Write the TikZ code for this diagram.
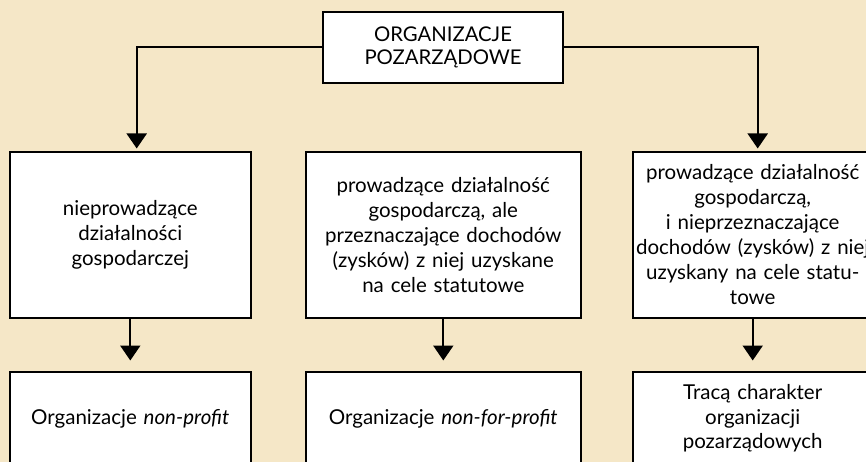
\documentclass[tikz,border=0pt]{standalone}
\usepackage{fontspec}
\setmainfont{Lato}
\usetikzlibrary{positioning,arrows.meta}
\definecolor{paper}{RGB}{245,231,199}

\tikzset{
  box/.style={draw, line width=2pt, fill=white, align=center, inner xsep=9pt, inner ysep=0pt,
    font=\fontsize{20.5}{25}\selectfont, text width=222pt, minimum height=165pt},
  endbox/.style={box, minimum height=94pt, font=\fontsize{20.5}{24.3}\selectfont},
  link/.style={line width=2pt, -{Triangle[width=20pt,length=15pt]}}
}

\begin{document}
\begin{tikzpicture}[x=1pt,y=-1pt]
\fill[paper] (0,0) rectangle (866,462);
\useasboundingbox (0,0) rectangle (866,462);
\clip (0,0) rectangle (866,462);

\node (NGO) [box, minimum height=71pt, font=\fontsize{20.3}{23.5}\selectfont] at (443,47.5) {ORGANIZACJE\\POZARZĄDOWE};

\node (L1) [box, text width=222.7pt] at (130.3,235) {nieprowadzące\\działalności\\gospodarczej};
\node (M1) [box, text width=256.7pt] at (443.3,235) {prowadzące działalność\\gospodarczą, ale\\przeznaczające dochodów\\(zysków) z niej uzyskane\\na cele statutowe};
\node (R1) [box] at (752.7,235) {prowadzące działalność\\gospodarczą,\\i nieprzeznaczające\\\makebox[\linewidth]{dochodów (zysków) z niej}\\uzyskany na cele statu-\\towe};

\node (L2) [endbox, text width=222.7pt, below=52pt of L1.south, anchor=north] {Organizacje \textit{non-profit}};
\node (M2) [endbox, text width=256.7pt, below=52pt of M1.south, anchor=north] {Organizacje \textit{non-for-profit}};
\node (R2) [endbox, below=52pt of R1.south, anchor=north] {Tracą charakter\\organizacji\\pozarządowych};

% arrows from the top box
\draw[link, shorten >=3pt] (NGO.west) -| ([xshift=6.4pt]L1.north);
\draw[link, shorten >=3pt] (NGO.east) -| ([xshift=5pt]R1.north);

% arrows to the bottom row
\draw[link, shorten >=10pt] (L1.south) -- (L2.north);
\draw[link, shorten >=10pt] (M1.south) -- (M2.north);
\draw[link, shorten >=10pt] (R1.south) -- (R2.north);
\end{tikzpicture}
\end{document}
